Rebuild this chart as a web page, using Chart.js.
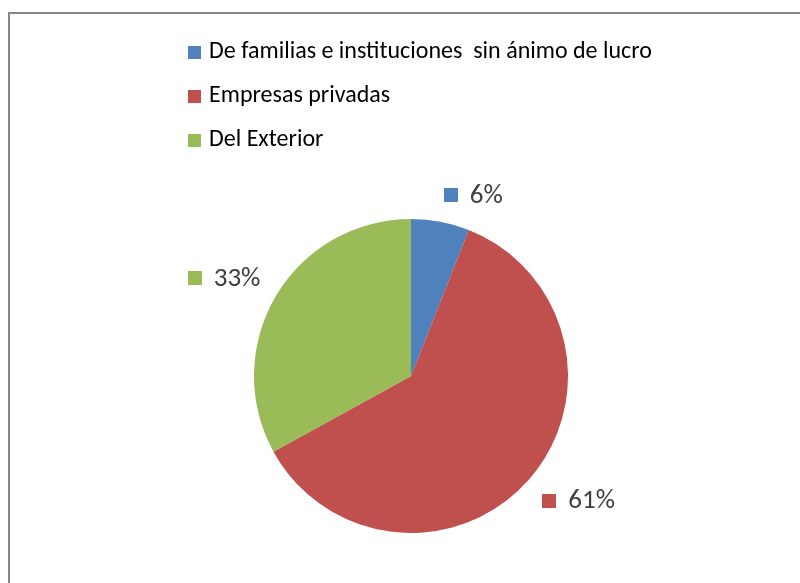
<!DOCTYPE html>
<html><head><meta charset="utf-8">
<script src="https://cdn.jsdelivr.net/npm/chart.js@4/dist/chart.umd.min.js"></script>
<style>
html,body{margin:0;padding:0;background:#fff;overflow:hidden}
#wrap{position:relative;width:800px;height:583px}
#frame{position:absolute;left:8px;top:12px;width:900px;height:700px;border-left:2px solid #878787;border-top:2px solid #878787}
canvas{position:absolute;left:0;top:0}
</style></head><body>
<div id="wrap"><div id="frame"></div><canvas id="c" width="800" height="583"></canvas></div>
<script>
const categories = ['De familias e instituciones  sin ánimo de lucro', 'Empresas privadas', 'Del Exterior'];
const values = [6, 61, 33];
const colors = ['#4F81BD', '#C0504D', '#9BBB59'];
const valueLabels = values.map(v => v + '%');

const FONT = "Carlito, 'Open Sans', Lato, sans-serif";

const legendPlugin = {
  id: 'stackLegend',
  afterDraw(chart) {
    const ctx = chart.ctx;
    const items = chart.options.plugins.legend.labels.generateLabels(chart);
    ctx.save();
    ctx.font = '24px ' + FONT;
    const box = 13, gap = 8, rowH = 44, top = 52;
    let maxW = 0;
    items.forEach(it => { maxW = Math.max(maxW, box + gap + ctx.measureText(it.text).width); });
    const x0 = Math.round(420 - maxW / 2);
    items.forEach((it, i) => {
      const cy = top + i * rowH;
      ctx.fillStyle = it.fillStyle;
      ctx.fillRect(x0, Math.round(cy - box / 2), box, box);
      ctx.fillStyle = '#000';
      ctx.textBaseline = 'middle';
      ctx.textAlign = 'left';
      ctx.fillText(it.text, x0 + box + gap, cy);
    });
    ctx.restore();
  }
};

const valueLabelPlugin = {
  id: 'valueLabels',
  afterDatasetsDraw(chart) {
    const ctx = chart.ctx;
    const meta = chart.getDatasetMeta(0);
    ctx.save();
    ctx.font = '27px ' + FONT;
    const sq = 14, gap = 12, h = 18, off = 18;
    meta.data.forEach((arc, i) => {
      const p = arc.getProps(['x', 'y', 'startAngle', 'endAngle', 'outerRadius'], true);
      const mid = (p.startAngle + p.endAngle) / 2;
      const dx = Math.cos(mid), dy = Math.sin(mid);
      const px = p.x + (p.outerRadius + off) * dx;
      const py = p.y + (p.outerRadius + off) * dy;
      const text = valueLabels[i];
      const w = sq + gap + ctx.measureText(text).width;
      const left = dx >= 0 ? px : px - w;
      const topY = dy >= 0 ? py : py - h;
      const cy = topY + h / 2;
      ctx.fillStyle = colors[i];
      ctx.fillRect(Math.round(left), Math.round(cy - sq / 2), sq, sq);
      ctx.fillStyle = '#404040';
      ctx.textBaseline = 'middle';
      ctx.textAlign = 'left';
      ctx.fillText(text, left + sq + gap, cy + 1);
    });
    ctx.restore();
  }
};

new Chart(document.getElementById('c'), {
  type: 'pie',
  data: {
    labels: categories,
    datasets: [{
      data: values,
      backgroundColor: colors,
      borderWidth: 0
    }]
  },
  options: {
    responsive: false,
    animation: false,
    devicePixelRatio: 1,
    layout: { padding: { top: 219, bottom: 50, left: 254, right: 232 } },
    plugins: {
      legend: { display: false },
      tooltip: { enabled: false }
    }
  },
  plugins: [legendPlugin, valueLabelPlugin]
});
</script>
</body></html>
